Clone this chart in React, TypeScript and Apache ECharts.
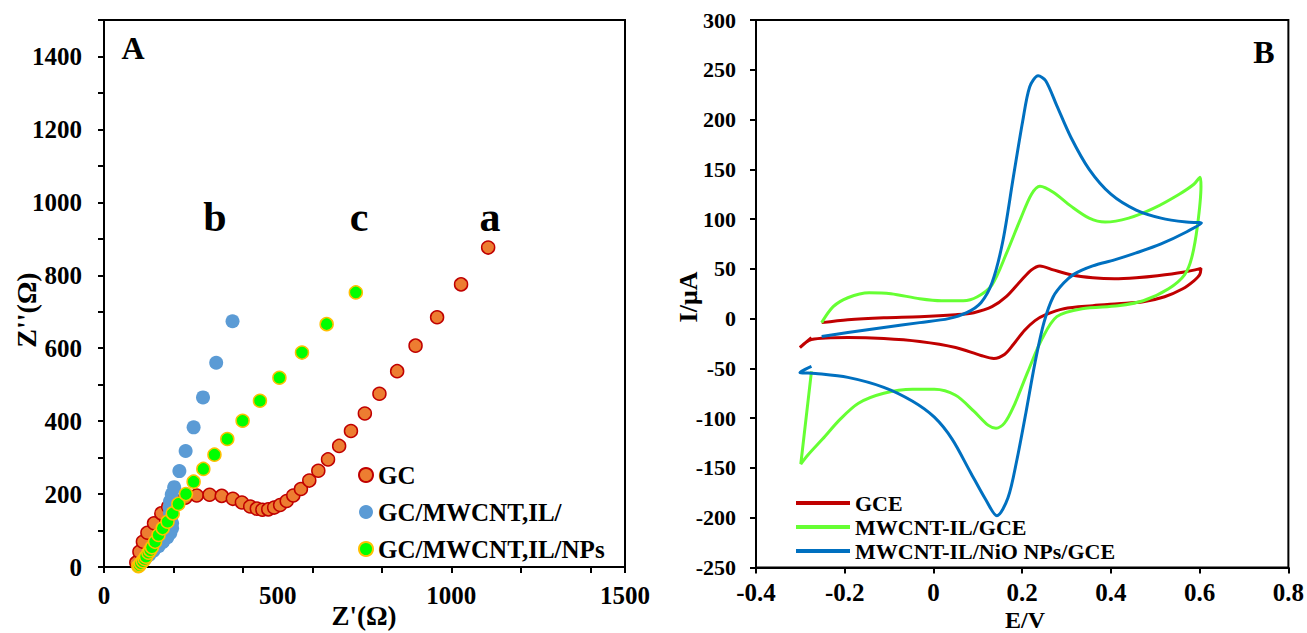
import React, { useEffect, useRef } from "react";
import * as echarts from "echarts";

// ---------- Panel A: Nyquist plots (Z' , Z'') ----------
const gcPoints: number[][] = [
  [93, 12], [102, 42], [112, 69], [125, 94], [144, 120], [165, 147], [185, 165], [207, 180],
  [234, 190], [267, 196], [304, 198], [339, 195], [371, 187], [397, 177], [421, 166], [440, 160],
  [456, 157], [473, 158], [490, 163], [507, 170], [526, 181], [545, 196], [567, 214], [591, 237],
  [617, 264], [645, 295], [677, 332], [711, 373], [751, 421], [793, 475], [844, 537], [897, 607],
  [959, 685], [1028, 775], [1106, 876],
];
const mwcntPoints: number[][] = [
  [100, 4], [108, 12], [118, 22], [130, 33], [143, 45], [157, 57], [170, 69], [182, 81],
  [191, 93], [196, 106], [196, 120], [193, 134], [190, 148], [189, 163], [190, 180], [195, 199],
  [202, 219], [217, 263], [235, 318], [258, 383], [285, 465], [323, 560], [370, 674],
];
const npsPoints: number[][] = [
  [99, 2], [102, 5], [106, 10], [112, 16], [117, 22], [121, 28], [128, 39], [133, 46],
  [138, 54], [147, 69], [157, 88], [169, 106], [183, 124], [198, 147], [214, 173], [236, 200],
  [258, 234], [286, 269], [318, 308], [355, 351], [399, 401], [449, 456], [505, 519], [570, 588],
  [641, 666], [725, 753],
];
const nyquistNames = ["GC", "GC/MWCNT,IL/", "GC/MWCNT,IL/NPs"];
const nyquistYLabels = [0, 200, 400, 600, 800, 1000, 1200, 1400];
const nyquistXLabels = [0, 500, 1000, 1500];

// ---------- Panel B: cyclic voltammograms (E/V, I/μA) ----------
const gceCurve: number[][] = [
  [-0.252, -4], [-0.193, -1], [-0.112, 1], [-0.031, 2], [0.05, 4], [0.091, 6], [0.132, 12],
  [0.164, 22], [0.197, 38], [0.221, 49], [0.24, 53], [0.27, 49], [0.31, 44], [0.359, 41],
  [0.408, 40], [0.457, 41], [0.505, 43], [0.562, 46.5], [0.603, 50.5], [0.6, 44], [0.587, 38],
  [0.562, 30], [0.521, 22], [0.473, 17], [0.416, 15], [0.359, 13], [0.294, 10], [0.253, 4],
  [0.229, -2], [0.205, -12], [0.18, -26], [0.16, -36], [0.136, -40], [0.107, -37], [0.05, -29],
  [-0.031, -23], [-0.112, -20], [-0.193, -19], [-0.275, -21], [-0.301, -29], [-0.275, -19],
];
const mwcntCurve: number[][] = [
  [-0.252, -4], [-0.226, 12], [-0.193, 21], [-0.145, 26], [-0.096, 25], [-0.031, 20], [0.018, 18],
  [0.067, 18], [0.099, 22], [0.132, 34], [0.164, 65], [0.197, 101], [0.221, 125], [0.24, 133],
  [0.27, 127], [0.31, 113], [0.351, 101], [0.387, 97], [0.44, 101], [0.497, 111], [0.554, 125],
  [0.587, 135], [0.601, 142], [0.603, 133], [0.595, 93], [0.582, 61], [0.566, 44], [0.53, 30],
  [0.473, 18], [0.416, 13], [0.335, 10], [0.278, 2], [0.245, -20], [0.213, -53], [0.18, -89],
  [0.16, -105], [0.141, -110], [0.123, -107], [0.091, -93], [0.05, -77], [0.002, -71],
  [-0.047, -71], [-0.112, -75], [-0.169, -85], [-0.21, -101], [-0.25, -121], [-0.283, -137],
  [-0.299, -146], [-0.275, -53],
];
const nioCurve: number[][] = [
  [-0.252, -18], [-0.193, -14], [-0.112, -9], [-0.031, -4], [0.034, 0], [0.075, 6], [0.107, 16],
  [0.132, 36], [0.156, 77], [0.18, 142], [0.201, 198], [0.217, 233], [0.236, 244], [0.253, 239],
  [0.278, 214], [0.31, 182], [0.351, 150], [0.4, 125], [0.457, 109], [0.513, 101], [0.57, 97],
  [0.604, 96], [0.57, 87], [0.513, 75], [0.457, 66], [0.408, 59], [0.359, 53], [0.318, 45],
  [0.294, 36], [0.27, 22], [0.249, -4], [0.229, -44], [0.209, -93], [0.188, -142], [0.168, -180],
  [0.143, -198], [0.118, -182], [0.083, -154], [0.042, -121], [0.002, -99],
  [-0.047, -83], [-0.112, -69], [-0.193, -59], [-0.266, -55], [-0.301, -54], [-0.275, -48],
];
const cvNames = ["GCE", "MWCNT-IL/GCE", "MWCNT-IL/NiO NPs/GCE"];

const FONT = '"Liberation Serif", "Times New Roman", serif';

export default function App() {
  const ref = useRef<HTMLDivElement>(null);

  useEffect(() => {
    document.body.style.margin = "0";
    const chart = echarts.init(ref.current!, null, { renderer: "svg" });

    const axisLine = { show: true, onZero: false, lineStyle: { color: "#000", width: 2 } };
    const tick = { show: true, inside: false, length: 6, lineStyle: { color: "#000", width: 2 } };
    const lbl = (size: number, margin: number, formatter?: any) => ({
      color: "#000",
      fontFamily: FONT,
      fontWeight: "bold",
      fontSize: size,
      margin,
      formatter,
    });
    const txt = (text: string, x: number, y: number, size: number, rotation = 0) => ({
      type: "text",
      x,
      y,
      rotation,
      style: {
        text,
        x: 0,
        y: 0,
        fill: "#000",
        font: `bold ${size}px ${FONT}`,
        align: "center",
        verticalAlign: "middle",
      },
    });

    const option: any = {
      animation: false,
      backgroundColor: "#fff",
      grid: [
        { left: 104, top: 20, width: 521, height: 547, show: true, borderColor: "#000", borderWidth: 2, backgroundColor: "transparent" },
        { left: 756, top: 20, width: 538, height: 547.5, show: true, borderColor: "#000", borderWidth: 2, backgroundColor: "transparent" },
      ],
      xAxis: [
        {
          gridIndex: 0, type: "value", min: 0, max: 1500, interval: 500,
          axisLine, axisTick: { show: false }, splitLine: { show: false },
          axisLabel: lbl(25, 16, (v: number) => (nyquistXLabels.includes(v) ? String(v) : "")),
        },
        {
          gridIndex: 0, type: "value", min: 0, max: 1500, interval: 200, position: "bottom",
          axisLine: { show: false }, axisTick: tick, splitLine: { show: false },
          axisLabel: { show: false },
        },
        {
          gridIndex: 1, type: "value", min: -0.4, max: 0.8, interval: 0.2,
          axisLine, axisTick: tick, splitLine: { show: false },
          axisLabel: lbl(25, 12, (v: number) => String(Math.round(v * 10) / 10)),
        },
      ],
      yAxis: [
        {
          gridIndex: 0, type: "value", min: 0, max: 1500, interval: 100,
          axisLine, axisTick: tick, splitLine: { show: false },
          axisLabel: lbl(25, 22, (v: number) => (nyquistYLabels.includes(v) ? String(v) : "")),
        },
        {
          gridIndex: 1, type: "value", min: -250, max: 300, interval: 50,
          axisLine, axisTick: tick, splitLine: { show: false },
          axisLabel: lbl(22, 20),
        },
      ],
      legend: [
        {
          data: nyquistNames,
          orient: "vertical",
          left: 358,
          top: 461,
          padding: 0,
          itemWidth: 14,
          itemHeight: 14,
          itemGap: 9,
          icon: "circle",
          textStyle: { color: "#000", fontFamily: FONT, fontWeight: "bold", fontSize: 25, lineHeight: 28 },
        },
        {
          data: cvNames,
          orient: "vertical",
          left: 796,
          top: 491,
          padding: 0,
          itemWidth: 54,
          itemHeight: 4,
          itemGap: 0,
          icon: "rect",
          textStyle: { color: "#000", fontFamily: FONT, fontWeight: "bold", fontSize: 22, lineHeight: 24 },
        },
      ],
      series: [
        {
          name: nyquistNames[0], type: "scatter", xAxisIndex: 0, yAxisIndex: 0, data: gcPoints,
          symbol: "circle", symbolSize: 13,
          itemStyle: { color: "#ED7D31", borderColor: "#C00000", borderWidth: 1.5, opacity: 1 },
        },
        {
          name: nyquistNames[1], type: "scatter", xAxisIndex: 0, yAxisIndex: 0, data: mwcntPoints,
          symbol: "circle", symbolSize: 14,
          itemStyle: { color: "#5B9BD5", borderWidth: 0, opacity: 1 },
        },
        {
          name: nyquistNames[2], type: "scatter", xAxisIndex: 0, yAxisIndex: 0, data: npsPoints,
          symbol: "circle", symbolSize: 13,
          itemStyle: { color: "#00FF00", borderColor: "#FFC000", borderWidth: 1.5, opacity: 1 },
        },
        {
          name: cvNames[0], type: "line", xAxisIndex: 2, yAxisIndex: 1, data: gceCurve,
          showSymbol: false, symbol: "none", smooth: 0.3,
          lineStyle: { color: "#C00000", width: 3 }, itemStyle: { color: "#C00000" },
        },
        {
          name: cvNames[1], type: "line", xAxisIndex: 2, yAxisIndex: 1, data: mwcntCurve,
          showSymbol: false, symbol: "none", smooth: 0.3,
          lineStyle: { color: "#66FF33", width: 3 }, itemStyle: { color: "#66FF33" },
        },
        {
          name: cvNames[2], type: "line", xAxisIndex: 2, yAxisIndex: 1, data: nioCurve,
          showSymbol: false, symbol: "none", smooth: 0.3,
          lineStyle: { color: "#0070C0", width: 3 }, itemStyle: { color: "#0070C0" },
        },
      ],
      graphic: [
        txt("A", 133, 48, 32),
        txt("B", 1264, 52, 32),
        txt("b", 215, 217, 42),
        txt("c", 359, 217, 42),
        txt("a", 490, 217, 42),
        txt("Z'(Ω)", 364, 616, 27),
        txt("Z''(Ω)", 26, 310, 28, Math.PI / 2),
        txt("I/μA", 688, 297, 26, Math.PI / 2),
        txt("E/V", 1025, 620, 24),
      ],
    };

    chart.setOption(option);
    return () => chart.dispose();
  }, []);

  return <div ref={ref} style={{ width: 1307, height: 633 }} />;
}
